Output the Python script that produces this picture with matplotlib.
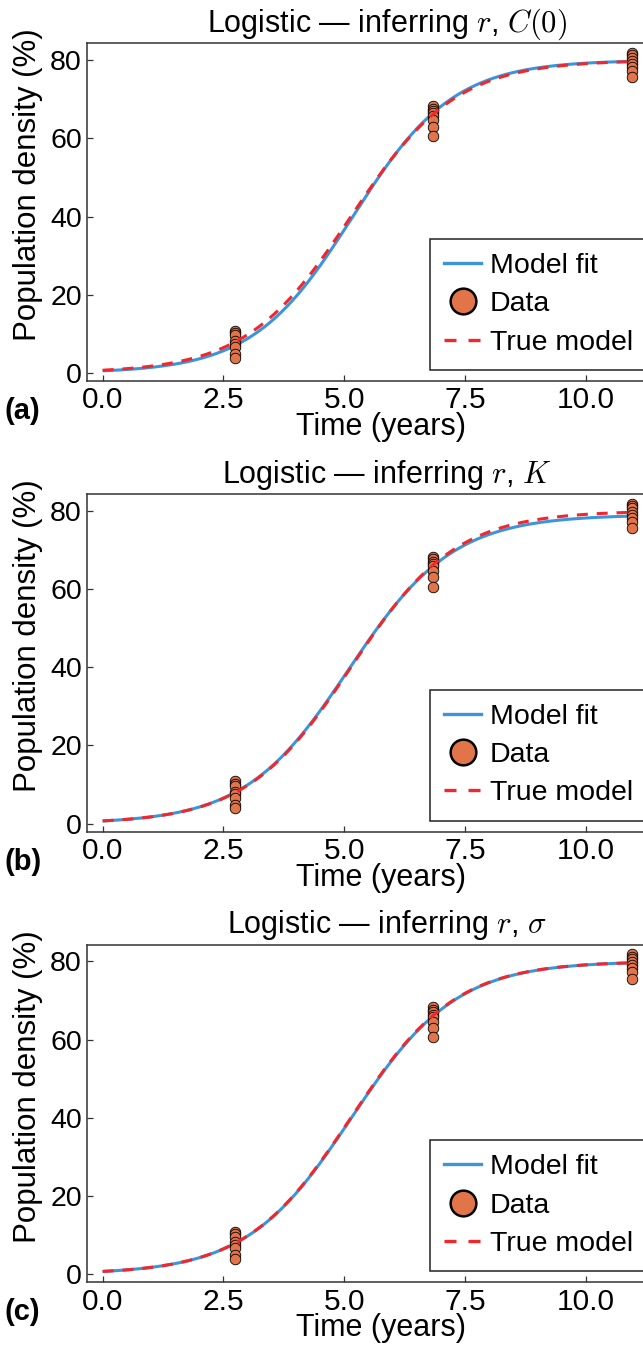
import numpy as np
import matplotlib
matplotlib.use("Agg")
import matplotlib.pyplot as plt
from matplotlib.lines import Line2D

plt.rcParams['font.family'] = ['Liberation Sans', 'DejaVu Sans']
plt.rcParams['mathtext.fontset'] = 'cm'

# ---------------- data ----------------
obs_times = [2.74, 6.85, 10.96]          # years
obs_t1 = [10.8, 10.2, 9.6, 8.2, 7.5, 6.6, 4.8, 3.9]
obs_t2 = [68.2, 67.6, 67.0, 66.4, 65.8, 64.6, 63.0, 60.6]
obs_t3 = [81.8, 81.2, 80.6, 79.8, 79.0, 78.2, 77.2, 75.6]

# logistic model parameters (r [1/yr], K [%], C0 [%])
true_params = (0.92, 80.0, 0.70)
fit_params_a = (0.96, 80.0, 0.55)
fit_params_b = (0.925, 79.0, 0.70)
fit_params_c = (0.918, 80.0, 0.70)

titles = [r"Logistic — inferring $r$, $C(0)$",
          r"Logistic — inferring $r$, $K$",
          r"Logistic — inferring $r$, $\sigma$"]
panel_labels = ["(a)", "(b)", "(c)"]
xticks = [0.0, 2.5, 5.0, 7.5, 10.0]
yticks = [0, 20, 40, 60, 80]

BLUE = '#3d94db'
RED = '#f0282d'
ORANGE = '#e27449'


def logistic(t, p):
    r, K, C0 = p
    return K * C0 / (C0 + (K - C0) * np.exp(-r * t))


fig = plt.figure(figsize=(6.43, 13.47), dpi=100)

W, H = 643.0, 1347.0
left_px, right_px = 86.7, 687.0
tops = [43.3, 494.0, 944.5]
ax_h = 337.5

fits = [fit_params_a, fit_params_b, fit_params_c]
tgrid = np.linspace(0.0, 11.0, 400)

obs_x = np.concatenate([np.full(len(obs_t1), obs_times[0]),
                        np.full(len(obs_t2), obs_times[1]),
                        np.full(len(obs_t3), obs_times[2])])
obs_y = np.concatenate([obs_t1, obs_t2, obs_t3])

for i in range(3):
    top = tops[i]
    ax = fig.add_axes([left_px / W, 1 - (top + ax_h) / H,
                       (right_px - left_px) / W, ax_h / H])
    ax.plot(tgrid, logistic(tgrid, fits[i]), color=BLUE, lw=2.2,
            solid_capstyle='butt', zorder=2)
    ax.plot(obs_x, obs_y, linestyle='none', marker='o', markersize=7.6,
            markerfacecolor=ORANGE, markeredgecolor='black',
            markeredgewidth=0.6, zorder=3)
    ax.plot(tgrid, logistic(tgrid, true_params), color=RED, lw=2.2,
            dashes=(3.6, 2.9), zorder=4)

    ax.set_xlim(-0.33, 12.1)
    ax.set_ylim(-2.0, 84.3)
    ax.set_xticks(xticks)
    ax.set_xticklabels([f"{v:.1f}" for v in xticks])
    ax.set_yticks(yticks)
    ax.tick_params(direction='in', length=4.5, width=0.9, colors='#333333',
                   labelcolor='black', pad=4)
    ax.tick_params(axis='x', labelsize=21.5)
    ax.tick_params(axis='y', labelsize=20.5, pad=3.5)
    for s in ax.spines.values():
        s.set_color('#333333')
        s.set_linewidth(1.1)

    ax.set_title(titles[i], fontsize=22, pad=8)
    ax.set_xlabel("Time (years)", fontsize=22)
    ax.xaxis.set_label_coords(0.49, -0.092)
    ax.xaxis.label.set_va('top')
    ax.set_ylabel("Population density (%)", fontsize=22.5)
    ax.yaxis.set_label_coords(-0.097, 0.58)
    ax.yaxis.label.set_va('center')

    handles = [Line2D([], [], color=BLUE, lw=2.4),
               Line2D([], [], linestyle='none', marker='o', markersize=18.5,
                      markerfacecolor=ORANGE, markeredgecolor='black',
                      markeredgewidth=1.8),
               Line2D([], [], color=RED, lw=2.4, dashes=(3.6, 3.6))]
    leg = ax.legend(handles, ["Model fit", "Data", "True model"],
                    loc='upper left', bbox_to_anchor=(0.572, 0.4205),
                    borderaxespad=0, fontsize=20.5, frameon=True,
                    fancybox=False, framealpha=1, edgecolor='#222222',
                    handlelength=1.3, handletextpad=0.3, borderpad=0.5,
                    labelspacing=0.43)
    leg.get_frame().set_linewidth(1.1)

    fig.text(4 / W, 1 - (top + 368) / H, panel_labels[i], fontsize=21,
             fontweight='bold', ha='left', va='center')

fig.savefig("out.png", dpi=100)
